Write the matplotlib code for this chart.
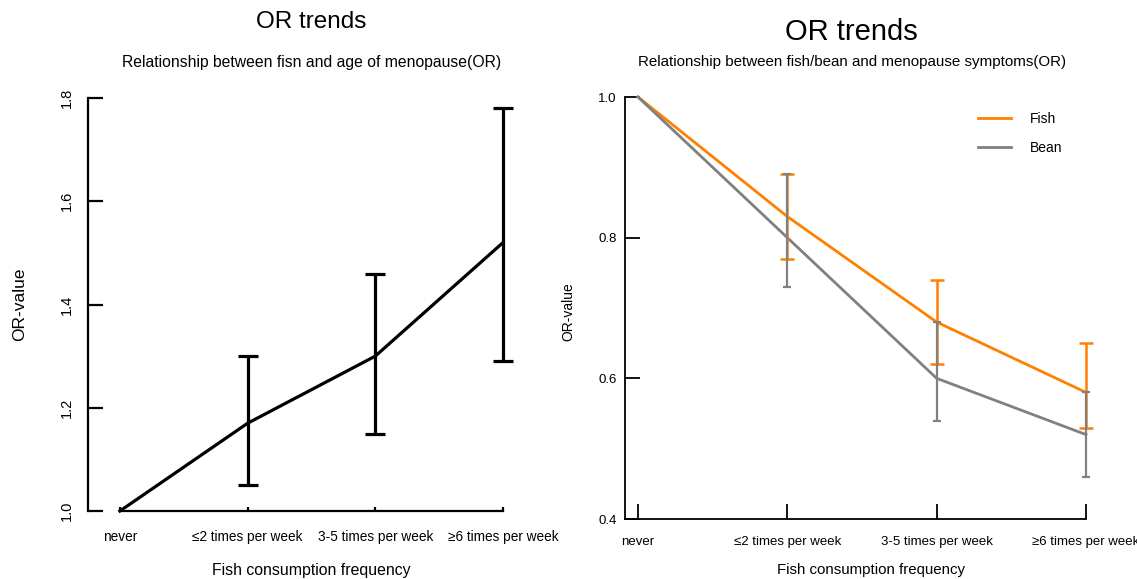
import numpy as np
import matplotlib
matplotlib.use("Agg")
import matplotlib.pyplot as plt

plt.rcParams["font.family"] = ["Liberation Sans", "DejaVu Sans"]

# ---------------------------
# data
# ---------------------------
categories = ["never", "≤2 times per week", "3-5 times per week", "≥6 times per week"]

# left panel: fish vs age of menopause
left_or = [1.0, 1.17, 1.30, 1.52]
left_lo = [1.0, 1.05, 1.15, 1.29]
left_hi = [1.0, 1.30, 1.46, 1.78]

# right panel: fish / bean vs menopause symptoms
fish_or = [1.0, 0.83, 0.68, 0.58]
fish_lo = [1.0, 0.77, 0.62, 0.53]
fish_hi = [1.0, 0.89, 0.74, 0.65]

bean_or = [1.0, 0.80, 0.60, 0.52]
bean_lo = [1.0, 0.73, 0.54, 0.46]
bean_hi = [1.0, 0.89, 0.68, 0.58]

left_yticks = [1.0, 1.2, 1.4, 1.6, 1.8]
right_yticks = [0.4, 0.6, 0.8, 1.0]

ORANGE = "#ff8000"
GREY = "#808080"

# ---------------------------
# figure in pixel units
# ---------------------------
W, H = 1137, 579
dpi = 100
fig = plt.figure(figsize=(W / dpi, H / dpi), dpi=dpi)


def px_axes(x0, y_top, x1, y_bot):
    # pixel box (from top-left) -> figure axes
    return fig.add_axes([x0 / W, 1 - y_bot / H, (x1 - x0) / W, (y_bot - y_top) / H])


def ftext(x, y, s, **kw):
    fig.text(x / W, 1 - y / H, s, ha=kw.pop("ha", "center"), va=kw.pop("va", "center"), **kw)


x = np.arange(len(categories))

# ---------------------------
# left panel
# ---------------------------
ax1 = px_axes(88, 98, 503, 511)
ax1.set_xlim(-0.25, 3)
ax1.set_ylim(1.0, 1.8)
ax1.plot(x, left_or, color="black", lw=2.3, solid_joinstyle="miter", clip_on=False)
err = np.array([np.subtract(left_or, left_lo), np.subtract(left_hi, left_or)])
eb = ax1.errorbar(x[1:], left_or[1:], yerr=err[:, 1:], fmt="none", ecolor="black",
                  elinewidth=2.3, capsize=7.5, capthick=2.3)
for art in eb.lines[1] + eb.lines[2]:
    art.set_clip_on(False)

for s in ["top", "right"]:
    ax1.spines[s].set_visible(False)
for s in ["left", "bottom"]:
    ax1.spines[s].set_linewidth(1.6)
ax1.spines["bottom"].set_bounds(0, 3)
ax1.set_xticks(x)
ax1.set_xticklabels(categories, fontsize=9.8)
ax1.set_yticks(left_yticks)
ax1.set_yticklabels([f"{v:.1f}" for v in left_yticks], fontsize=10.5,
                    rotation=90, va="center")
ax1.tick_params(axis="y", direction="in", length=11, width=1.6, pad=10)
ax1.tick_params(axis="x", direction="in", length=3, width=1.6, pad=14)

ftext(311, 22, "OR trends", fontsize=17.5)
ftext(312, 62, "Relationship between fisn and age of menopause(OR)", fontsize=11.3)
ftext(311, 570, "Fish consumption frequency", fontsize=11.4)
ftext(20, 304, "OR-value", fontsize=12.5, rotation=90)

# ---------------------------
# right panel
# ---------------------------
ax2 = px_axes(625, 97, 1086, 519)
ax2.set_xlim(-13 / 149.3, 3)
ax2.set_ylim(0.4, 1.0)

ax2.plot(x, fish_or, color=ORANGE, lw=2, label="Fish", clip_on=False)
ax2.plot(x, bean_or, color=GREY, lw=2, label="Bean", clip_on=False)
ferr = np.array([np.subtract(fish_or, fish_lo), np.subtract(fish_hi, fish_or)])
berr = np.array([np.subtract(bean_or, bean_lo), np.subtract(bean_hi, bean_or)])
eb_f = ax2.errorbar(x[1:], fish_or[1:], yerr=ferr[:, 1:], fmt="none", ecolor=ORANGE,
                    elinewidth=1.8, capsize=4.8, capthick=1.8)
eb_b = ax2.errorbar(x[1:], bean_or[1:], yerr=berr[:, 1:], fmt="none", ecolor=GREY,
                    elinewidth=1.6, capsize=2.6, capthick=1.6)
for e in (eb_f, eb_b):
    for art in e.lines[1] + e.lines[2]:
        art.set_clip_on(False)

for s in ["top", "right"]:
    ax2.spines[s].set_visible(False)
for s in ["left", "bottom"]:
    ax2.spines[s].set_linewidth(1.3)
ax2.set_xticks(x)
ax2.set_xticklabels(categories, fontsize=9.5)
ax2.set_yticks(right_yticks)
ax2.set_yticklabels([f"{v:.1f}" for v in right_yticks], fontsize=9.5)
ax2.tick_params(axis="both", direction="in", length=11, width=1.3)
ax2.tick_params(axis="y", pad=6)
ax2.tick_params(axis="x", pad=12)

ax2.legend(loc="upper left", bbox_to_anchor=(972 / W, 1 - 106 / H),
           bbox_transform=fig.transFigure, frameon=False, fontsize=10,
           handlelength=2.4, handletextpad=1.4, labelspacing=1.1,
           borderaxespad=0)

ftext(851, 32, "OR trends", fontsize=21)
ftext(852, 62, "Relationship between fish/bean and menopause symptoms(OR)", fontsize=10.9)
ftext(871, 570, "Fish consumption frequency", fontsize=10.8)
ftext(568, 312, "OR-value", fontsize=10, rotation=90)

fig.savefig("out.png", dpi=dpi)
